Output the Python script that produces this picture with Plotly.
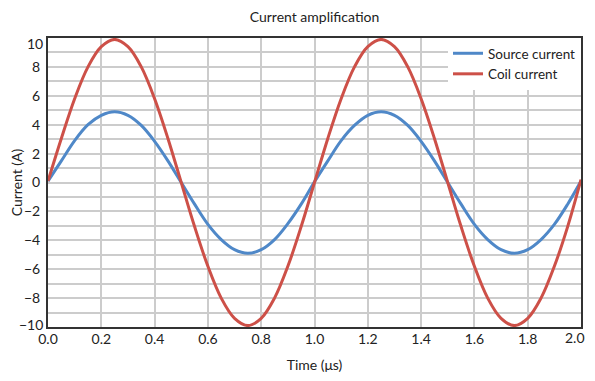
import plotly.graph_objects as go

time_us = [0.00, 0.05, 0.10, 0.15, 0.20, 0.25, 0.30, 0.35, 0.40, 0.45,
           0.50, 0.55, 0.60, 0.65, 0.70, 0.75, 0.80, 0.85, 0.90, 0.95,
           1.00, 1.05, 1.10, 1.15, 1.20, 1.25, 1.30, 1.35, 1.40, 1.45,
           1.50, 1.55, 1.60, 1.65, 1.70, 1.75, 1.80, 1.85, 1.90, 1.95, 2.00]

source_current = [0.1, 1.5, 2.9, 4.0, 4.65, 4.9, 4.65, 3.95, 2.85, 1.5,
                  0.0, -1.5, -2.9, -3.95, -4.65, -4.9, -4.65, -3.95, -2.85, -1.5,
                  0.05, 1.5, 2.9, 3.95, 4.65, 4.9, 4.65, 3.95, 2.85, 1.5,
                  0.0, -1.5, -2.9, -3.95, -4.65, -4.9, -4.65, -3.95, -2.9, -1.5, 0.1]

coil_current = [0.1, 3.05, 5.8, 8.0, 9.4, 9.9, 9.4, 8.0, 5.8, 3.05,
                0.0, -3.05, -5.8, -8.0, -9.4, -9.9, -9.4, -8.0, -5.8, -3.05,
                0.0, 3.05, 5.8, 8.0, 9.4, 9.9, 9.4, 8.0, 5.8, 3.05,
                0.0, -3.05, -5.8, -8.0, -9.4, -9.9, -9.4, -8.0, -5.8, -3.05, 0.2]

series_names = ["Source current", "Coil current"]
series_colors = ["#4F88C8", "#CD5048"]

x_ticks = [0.0, 0.2, 0.4, 0.6, 0.8, 1.0, 1.2, 1.4, 1.6, 1.8, 2.0]
x_tick_labels = ["0.0", "0.2", "0.4", "0.6", "0.8", "1.0", "1.2", "1.4", "1.6", "1.8", "2.0"]
y_ticks = [-10, -8, -6, -4, -2, 0, 2, 4, 6, 8, 10]
y_tick_labels = ["−10", "−8", "−6", "−4", "−2", "0", "2", "4", "6", "8", "10"]

FONT = "Lato, 'Noto Sans', sans-serif"
TXT = "#222222"
GRID = "#cccccc"
AXIS = "#333333"
TICKFONT = dict(family=FONT, size=14, color=TXT)

# the page body adds an 8 px margin; the figure is sized to fit the window
W, H = 579, 365

fig = go.Figure()
for name, vals, col in zip(series_names, [source_current, coil_current], series_colors):
    fig.add_trace(go.Scatter(
        x=time_us, y=vals, mode="lines", name=name,
        line=dict(color=col, width=3, shape="spline", smoothing=1.0),
    ))

# end labels are nudged inside the frame, as in the original chart
x_text = x_tick_labels[:-1] + [""]
y_text = [""] + y_tick_labels[1:-1] + [""]

annotations = [
    dict(text=x_tick_labels[-1], xref="paper", yref="paper", x=1, y=0,
         xanchor="right", yanchor="middle", xshift=6, yshift=-10,
         showarrow=False, font=TICKFONT),
    dict(text=y_tick_labels[-1], xref="paper", yref="paper", x=0, y=1,
         xanchor="right", yanchor="middle", xshift=-3, yshift=-5,
         showarrow=False, font=TICKFONT),
    dict(text=y_tick_labels[0], xref="paper", yref="paper", x=0, y=0,
         xanchor="right", yanchor="middle", xshift=-3, yshift=3,
         showarrow=False, font=TICKFONT),
]

fig.update_layout(
    width=W, height=H,
    margin=dict(l=39.5, r=6, t=30, b=46, autoexpand=False),
    paper_bgcolor="white", plot_bgcolor="white",
    font=dict(family=FONT, size=14, color=TXT),
    title=dict(text="Current amplification", x=0.5, xanchor="center", xref="paper",
               y=1 - 9.5 / H, yanchor="middle",
               font=dict(family=FONT, size=14, color=TXT)),
    legend=dict(x=1, xanchor="right", y=1, yanchor="top",
                bgcolor="white", borderwidth=0,
                font=dict(family=FONT, size=13.5, color=TXT),
                itemwidth=30, tracegroupgap=0),
    showlegend=True,
    annotations=annotations,
)

fig.update_xaxes(
    range=[0, 2], tickmode="array", tickvals=x_ticks, ticktext=x_text,
    showgrid=True, gridcolor=GRID, gridwidth=1.5,
    showline=True, linecolor=AXIS, linewidth=2, mirror=True,
    ticks="", zeroline=False, automargin=False, ticklabelstandoff=-2,
    tickfont=TICKFONT,
    title=dict(text="Time (μs)", font=dict(family=FONT, size=14, color=TXT), standoff=14),
)
fig.update_yaxes(
    range=[-10, 10], tickmode="array", tickvals=y_ticks, ticktext=y_text,
    showgrid=True, gridcolor=GRID, gridwidth=1.5,
    minor=dict(dtick=1, showgrid=True, gridcolor=GRID, gridwidth=1.5),
    showline=True, linecolor=AXIS, linewidth=2, mirror=True,
    ticks="", zeroline=False, automargin=False, ticklabelstandoff=3,
    tickfont=TICKFONT,
    title=dict(text="Current (A)", font=dict(family=FONT, size=14, color=TXT), standoff=0),
)

fig.write_html("out.html")
